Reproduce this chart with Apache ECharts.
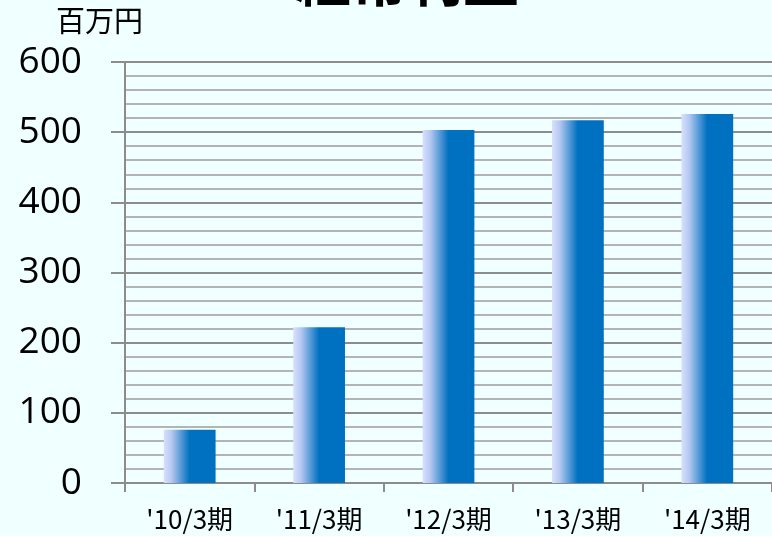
<!DOCTYPE html>
<html><head><meta charset="utf-8">
<script src="https://cdn.jsdelivr.net/npm/echarts@6/dist/echarts.min.js"></script>
<style>html,body{margin:0;padding:0;background:#f0ffff;}#c{width:772px;height:536px;}</style>
</head><body><div id="c"></div>
<script>
const categories = ["'10/3期", "'11/3期", "'12/3期", "'13/3期", "'14/3期"];
const values = [76, 222, 503, 517, 526];
const titleText = "経常利益";
const unitText = "百万円";

const chart = echarts.init(document.getElementById('c'));
chart.setOption({
  backgroundColor: '#f0ffff',
  animation: false,
  title: {
    text: titleText, left: 402, top: -53, textAlign: 'center',
    textStyle: {fontSize: 56, fontWeight: 'bold', color: '#000', fontFamily: 'Noto Sans CJK JP'}
  },
  graphic: [{
    type: 'text', left: 56, top: 6,
    style: {text: unitText, fontSize: 29, fill: '#000', fontFamily: 'Noto Sans CJK JP'}
  }],
  grid: {left: 125, right: -6, top: 62, bottom: 53, containLabel: false},
  xAxis: {
    type: 'category', data: categories,
    axisLine: {lineStyle: {color: '#8c8c8c', width: 2}},
    axisTick: {show: true, length: 9, lineStyle: {color: '#8c8c8c', width: 2}},
    axisLabel: {fontSize: 26, color: '#000', margin: 23, fontFamily: 'Noto Sans CJK JP'}
  },
  yAxis: {
    type: 'value', min: 0, max: 600, interval: 100,
    axisLine: {show: true, lineStyle: {color: '#8c8c8c', width: 2}},
    axisTick: {show: true, length: 14, lineStyle: {color: '#8c8c8c', width: 2}},
    axisLabel: {fontSize: 37, color: '#000', margin: 43, fontFamily: 'Open Sans'},
    splitLine: {show: true, lineStyle: {color: '#8c8c8c', width: 2}},
    minorTick: {show: false, splitNumber: 5},
    minorSplitLine: {show: true, lineStyle: {color: '#b4b4b4', width: 2}}
  },
  series: [{
    type: 'bar', data: values, barWidth: '40%',
    itemStyle: {
      color: new echarts.graphic.LinearGradient(0, 0, 1, 0, [
        {offset: 0, color: '#d8e0ff'},
        {offset: 0.15, color: '#b4c8f0'},
        {offset: 0.5, color: '#0070c0'},
        {offset: 1, color: '#0070c0'}
      ])
    }
  }]
});
</script></body></html>
